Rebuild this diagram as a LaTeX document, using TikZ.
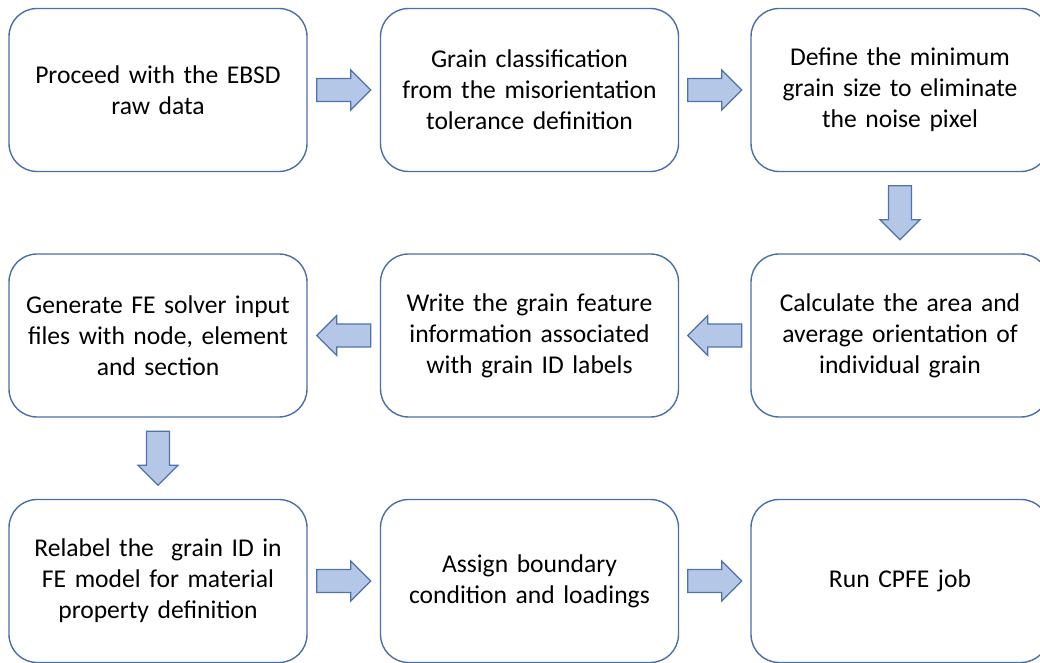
\documentclass[tikz,border=0pt]{standalone}
\usepackage{fontspec}
\setmainfont{Carlito}
\usetikzlibrary{calc}
\definecolor{boxline}{HTML}{4A6EA9}
\definecolor{arrfill}{HTML}{B4C7E7}
\definecolor{arrline}{HTML}{4F71AC}
\tikzset{
  stepbox/.style={draw=boxline, line width=1.4pt, rounded corners=28pt, fill=white,
    minimum width=298pt, minimum height=163pt, inner sep=0pt,
    text width=294pt, align=center, font=\fontsize{25.6pt}{31pt}\selectfont},
  blockarr/.pic={\draw[draw=arrline, fill=arrfill, line width=1.3pt, line join=miter]
    (-27pt,-11.5pt) -- (7pt,-11.5pt) -- (7pt,-20pt) -- (27pt,0pt) -- (7pt,20pt)
    -- (7pt,11.5pt) -- (-27pt,11.5pt) -- cycle;}
}
\begin{document}
\begin{tikzpicture}[x=1pt,y=1pt]
\useasboundingbox (0,0) rectangle (1040,663);
\clip (0,0) rectangle (1040,663);
% row 1
\node[stepbox] (b1) at (158,573) {Proceed with the EBSD\\raw data};
\node[stepbox] (b2) at (529.5,573) {Grain classification\\from the misorientation\\tolerance definition};
\node[stepbox] (b3) at (900,573) {Define the minimum\\grain size to eliminate\\the noise pixel};
% row 2
\node[stepbox] (b6) at (900,327.5) {Calculate the area and\\average orientation of\\individual grain};
\node[stepbox] (b5) at (529.5,327.5) {Write the grain feature\\information associated\\with grain ID labels};
\node[stepbox] (b4) at (158,327.5) {Generate FE solver input\\files with node, element\\and section};
% row 3
\node[stepbox] (b7) at (158,82) {Relabel the\ \ grain ID in\\FE model for material\\property definition};
\node[stepbox] (b8) at (529.5,82) {Assign boundary\\condition and loadings};
\node[stepbox] (b9) at (900,82) {Run CPFE job};
% arrows
\pic at ($(b1.east)!0.5!(b2.west)$) {blockarr};
\pic at ($(b2.east)!0.5!(b3.west)$) {blockarr};
\pic[rotate=-90] at ($(b3.south)!0.5!(b6.north)$) {blockarr};
\pic[rotate=180] at ($(b6.west)!0.5!(b5.east)$) {blockarr};
\pic[rotate=180] at ($(b5.west)!0.5!(b4.east)$) {blockarr};
\pic[rotate=-90] at ($(b4.south)!0.5!(b7.north)$) {blockarr};
\pic at ($(b7.east)!0.5!(b8.west)$) {blockarr};
\pic at ($(b8.east)!0.5!(b9.west)$) {blockarr};
\end{tikzpicture}
\end{document}
